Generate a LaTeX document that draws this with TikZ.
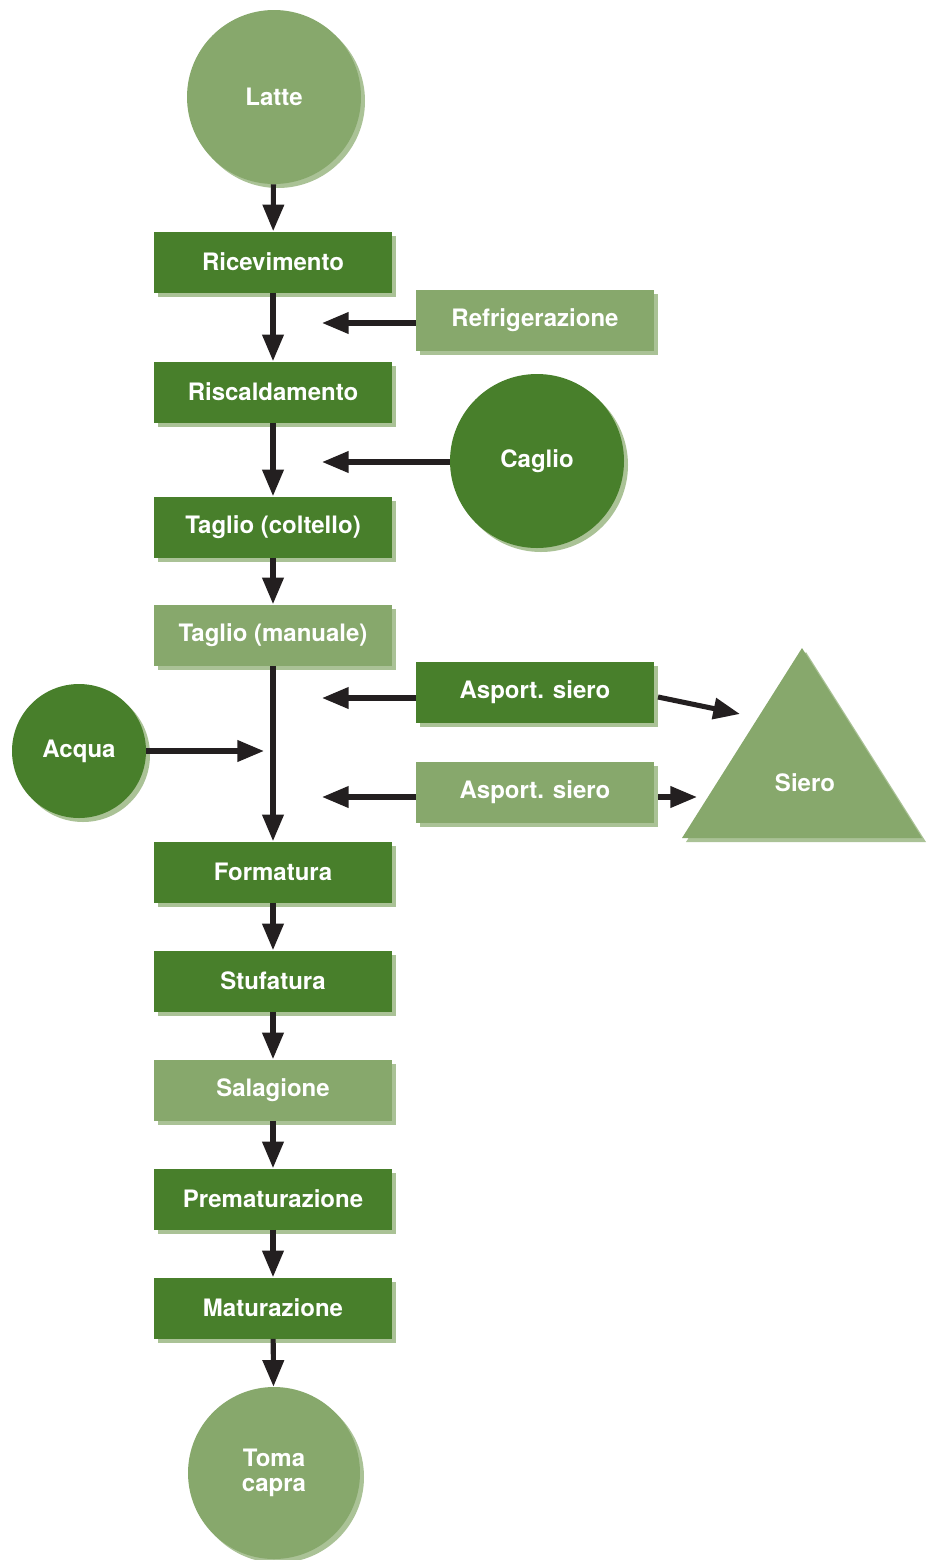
\documentclass[tikz,border=0pt]{standalone}
\usepackage{fontspec}
\setmainfont{TeX Gyre Heros}
\usetikzlibrary{arrows.meta,shadows}

\definecolor{darkgreen}{RGB}{72,127,43}
\definecolor{lightgreen}{RGB}{135,168,108}
\definecolor{shadegreen}{RGB}{170,194,150}

\tikzset{
    shade/.style={drop shadow={shadow xshift=3pt, shadow yshift=-3pt, fill=shadegreen, opacity=1}},
    label/.style={text=white, font=\fontsize{18}{21}\selectfont\bfseries, align=center, inner sep=0pt},
    darkstep/.style={label, rectangle, fill=darkgreen, minimum width=178.5pt, minimum height=45.75pt, shade},
    lightstep/.style={darkstep, fill=lightgreen},
    darkdot/.style={label, circle, fill=darkgreen, shade},
    lightdot/.style={label, circle, fill=lightgreen, shade},
    flow/.style={line width=3.8pt, draw={rgb,255:red,35;green,31;blue,32}, -{Triangle[length=20pt,width=15.5pt]}}
}

\begin{document}
\begin{tikzpicture}[x=0.75pt,y=0.75pt,yscale=-1,xscale=1]
    \useasboundingbox (0,0) rectangle (931,1560);

    %Shape: Triangle
    \path [fill=lightgreen, shade] (682,838) -- (802,648) -- (922,838) -- cycle ;

    % Text Node
    \node [lightdot, minimum size=130.5pt] (latte) at (274,97) {Latte};
    % Text Node
    \node [darkstep] (ricev) at (273,262) {Ricevimento};
    % Text Node
    \node [lightstep] (refr) at (535,320) {Refrigerazione};
    % Text Node
    \node [darkstep] (risc) at (273,392) {Riscaldamento};
    % Text Node
    \node [darkdot, minimum size=130.5pt] (caglio) at (537,461) {Caglio};
    % Text Node
    \node [darkstep] (tcolt) at (273,527) {Taglio (coltello)};
    % Text Node
    \node [lightstep] (tman) at (273,635) {Taglio (manuale)};
    % Text Node
    \node [darkstep] (asp1) at (535,692) {Asport. siero};
    % Text Node
    \node [lightstep] (asp2) at (535,792) {Asport. siero};
    % Text Node
    \node [label] (siero) at (805,783) {Siero};
    % Text Node
    \node [darkdot, minimum size=100.5pt] (acqua) at (79,751) {Acqua};
    % Text Node
    \node [darkstep] (form) at (273,872) {Formatura};
    % Text Node
    \node [darkstep] (stuf) at (273,981) {Stufatura};
    % Text Node
    \node [lightstep] (sal) at (273,1090) {Salagione};
    % Text Node
    \node [darkstep] (prem) at (273,1199) {Prematurazione};
    % Text Node
    \node [darkstep] (mat) at (273,1308) {Maturazione};
    % Text Node
    \node [lightdot, minimum size=129pt] (toma) at (274,1473) {Toma\\[-2pt]capra};

    % free ends
    \coordinate (inrefr) at (322,323);
    \coordinate (incaglio) at (322,462);
    \coordinate (inasp1) at (322,698);
    \coordinate (inasp2) at (322,797);
    \coordinate (inacqua) at (264,751);
    \coordinate (outasp1) at (658,697);
    \coordinate (outasp2) at (658,797);
    \coordinate (sieroa) at (740,714);
    \coordinate (sierob) at (697,797);

    % Connection
    \draw [flow] (latte) -- (ricev);
    \draw [flow] (ricev) -- (risc);
    \draw [flow] (risc) -- (tcolt);
    \draw [flow] (tcolt) -- (tman);
    \draw [flow] (tman) -- (form);
    \draw [flow] (form) -- (stuf);
    \draw [flow] (stuf) -- (sal);
    \draw [flow] (sal) -- (prem);
    \draw [flow] (prem) -- (mat);
    \draw [flow] (mat) -- (toma);
    % Connection
    \draw [flow] (refr.west |- inrefr) -- (inrefr);
    \draw [flow] (caglio.west |- incaglio) -- (incaglio);
    \draw [flow] (asp1.west |- inasp1) -- (inasp1);
    \draw [flow] (asp2.west |- inasp2) -- (inasp2);
    \draw [flow] (acqua.east |- inacqua) -- (inacqua);
    % Connection
    \draw [flow] (outasp1) -- (sieroa);
    \draw [flow] (outasp2) -- (sierob);

\end{tikzpicture}
\end{document}
